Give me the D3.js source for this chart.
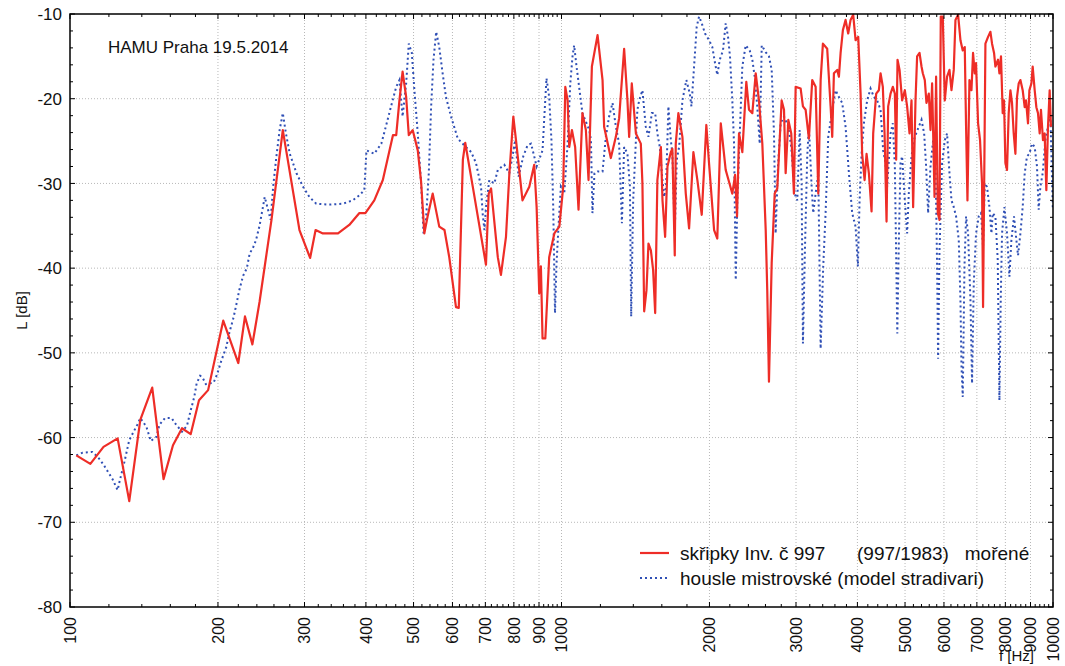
<!DOCTYPE html>
<html>
<head>
<meta charset="utf-8">
<script src="https://cdn.jsdelivr.net/npm/d3@7"></script>
<style>
  body { margin: 0; background: #fff; }
  text { font-family: Arial, "Liberation Sans", sans-serif; fill: #111; }
</style>
</head>
<body>
<svg id="chart" width="1065" height="666"></svg>
<script>
// tick values
var xTicks = [100, 200, 300, 400, 500, 600, 700, 800, 900, 1000, 2000, 3000, 4000, 5000, 6000, 7000, 8000, 9000, 10000];
var yTicks = [-80, -70, -60, -50, -40, -30, -20, -10];

// skřipky Inv. č 997 (red)
var redFreq = [103,110,117,125,132,139,147,155,162,169,176,183,191,205,220,227,235,243,257,271,293,308,316,327,351,370,388,399,416,433,454,461,468,475,483,489,498,510,518,526,534,547,564,578,591,610,618,630,637,660,702,711,719,742,753,771,783,798,808,833,860,880,890,901,908,915,927,944,967,990,1008,1018,1029,1037,1050,1066,1083,1103,1121,1135,1153,1184,1212,1221,1260,1290,1310,1341,1362,1373,1390,1417,1450,1461,1473,1489,1503,1520,1536,1551,1567,1593,1605,1625,1643,1669,1681,1700,1708,1729,1762,1790,1818,1855,1890,1929,1971,1996,2044,2075,2109,2158,2192,2226,2255,2276,2297,2333,2377,2407,2445,2484,2522,2562,2603,2622,2643,2677,2715,2748,2779,2805,2836,2858,2894,2934,2971,2995,3066,3099,3138,3187,3237,3289,3330,3367,3403,3472,3528,3555,3583,3639,3668,3697,3737,3784,3831,3874,3922,3966,4015,4060,4090,4137,4175,4221,4274,4307,4368,4423,4458,4506,4543,4585,4620,4672,4722,4767,4796,4827,4873,4932,4995,5049,5106,5154,5193,5251,5291,5351,5401,5434,5485,5528,5589,5633,5676,5740,5783,5829,5876,5911,5967,6023,6088,6157,6215,6282,6332,6411,6482,6552,6614,6655,6698,6761,6825,6876,6931,6973,7040,7105,7172,7206,7253,7286,7377,7459,7516,7587,7635,7730,7780,7838,7901,7950,8001,8062,8126,8191,8253,8319,8385,8448,8516,8584,8676,8758,8812,8895,8953,9037,9092,9178,9250,9321,9395,9452,9542,9617,9693,9768,9845,9905];
var redDb = [-62.1,-63.1,-61.1,-60.1,-67.5,-57.9,-54.1,-64.9,-60.9,-58.9,-59.6,-55.6,-54.4,-46.2,-51.2,-45.7,-49.0,-44.0,-34.3,-23.7,-35.5,-38.8,-35.5,-35.9,-35.9,-34.9,-33.5,-33.5,-32.0,-29.6,-24.3,-24.3,-20.2,-16.8,-19.8,-24.3,-23.7,-26.1,-29.8,-35.9,-33.9,-31.2,-35.1,-35.5,-38.7,-44.6,-44.7,-27.2,-25.2,-30.4,-39.6,-31.2,-30.6,-38.7,-40.8,-36.3,-29.0,-22.1,-24.9,-32.0,-30.4,-27.8,-32.8,-43.0,-39.8,-48.3,-48.3,-38.7,-35.9,-35.1,-30.4,-18.6,-20.2,-25.7,-23.7,-25.7,-33.1,-21.7,-23.7,-29.6,-16.2,-12.5,-17.8,-23.3,-27.0,-24.5,-22.3,-14.1,-20.2,-24.5,-18.2,-24.1,-25.3,-30.0,-45.1,-42.6,-37.1,-37.9,-40.2,-45.3,-29.6,-25.7,-32.0,-36.3,-28.0,-26.3,-25.9,-38.5,-25.3,-21.7,-24.5,-31.2,-35.3,-26.3,-29.6,-33.7,-23.1,-27.6,-35.5,-36.5,-22.9,-28.4,-29.8,-31.2,-29.0,-33.9,-24.1,-26.3,-18.0,-21.3,-21.7,-17.0,-20.2,-25.3,-35.5,-42.6,-53.4,-39.4,-31.2,-30.6,-24.9,-20.2,-21.3,-28.8,-22.5,-24.1,-31.2,-18.6,-18.8,-20.9,-21.3,-24.7,-17.8,-18.6,-31.2,-17.8,-13.5,-14.1,-20.9,-24.5,-17.0,-16.6,-17.4,-14.6,-11.9,-10.7,-12.3,-10.7,-10.1,-13.1,-12.7,-19.4,-26.5,-29.6,-26.5,-28.8,-33.3,-24.1,-19.4,-19.0,-17.0,-18.6,-24.1,-34.5,-20.9,-19.4,-18.6,-19.4,-27.2,-15.4,-16.6,-20.2,-19.0,-20.9,-24.1,-20.2,-32.8,-20.2,-15.0,-14.6,-16.2,-17.0,-17.8,-20.5,-19.4,-23.7,-18.2,-31.6,-17.4,-33.5,-34.3,-10.3,-10.3,-20.2,-17.4,-16.6,-19.0,-16.6,-10.7,-10.1,-13.1,-14.3,-13.9,-23.3,-32.0,-17.8,-19.0,-14.6,-17.0,-15.8,-22.9,-24.9,-30.0,-44.6,-26.5,-13.5,-12.7,-12.1,-13.5,-14.6,-16.2,-15.4,-17.0,-15.0,-21.7,-20.2,-27.6,-28.4,-21.7,-19.0,-20.5,-24.1,-26.5,-19.8,-18.2,-17.8,-19.0,-21.0,-20.2,-22.9,-19.0,-18.2,-16.2,-19.0,-21.0,-21.7,-24.1,-21.3,-24.9,-24.1,-30.8,-23.3,-19.0,-23.3];

// housle mistrovské (blue, dotted)
var blueFreq = [103,106,111,114,117,122,125,126,129,132,137,139,143,146,150,152,156,161,164,169,173,176,179,181,184,186,189,196,199,203,208,211,215,218,221,225,229,232,236,239,243,249,256,259,263,267,271,275,280,289,298,307,317,337,359,376,388,397,401,416,430,440,450,461,468,475,483,489,496,502,510,518,524,530,537,543,549,556,564,573,582,596,615,634,655,670,686,691,697,702,713,730,742,765,783,795,805,818,836,853,867,880,890,915,922,932,944,954,962,970,977,986,997,1013,1029,1042,1053,1061,1073,1086,1103,1139,1148,1156,1167,1184,1212,1231,1250,1270,1290,1310,1327,1341,1362,1378,1386,1399,1417,1427,1439,1461,1484,1503,1527,1551,1567,1585,1600,1617,1632,1650,1669,1681,1700,1716,1735,1762,1795,1824,1838,1861,1884,1905,1929,1959,1996,2027,2053,2075,2099,2131,2158,2182,2202,2226,2244,2262,2279,2305,2333,2370,2415,2445,2472,2502,2531,2555,2603,2643,2677,2706,2727,2757,2792,2836,2894,2934,2981,3018,3052,3080,3099,3128,3162,3187,3228,3252,3289,3330,3367,3408,3446,3489,3555,3611,3668,3725,3784,3844,3903,3966,4009,4041,4079,4123,4187,4254,4321,4388,4458,4513,4563,4598,4672,4722,4767,4822,4857,4895,4932,4995,5049,5089,5154,5210,5267,5333,5401,5468,5519,5571,5633,5703,5766,5810,5838,5876,5948,6023,6088,6157,6215,6282,6351,6431,6482,6513,6552,6605,6655,6718,6793,6844,6899,6973,7062,7138,7206,7263,7342,7425,7494,7540,7635,7719,7780,7828,7876,7965,8062,8153,8229,8331,8424,8489,8584,8676,8758,8853,8953,9063,9178,9277,9351,9426,9528,9648,9768,9877,9990];
var blueDb = [-62.1,-61.8,-61.7,-62.3,-63.2,-64.9,-66.2,-65.3,-62.9,-60.3,-58.5,-57.7,-58.7,-60.4,-59.9,-58.5,-57.7,-57.7,-58.4,-59.3,-58.6,-56.8,-55.2,-53.6,-52.7,-52.9,-53.7,-53.5,-52.6,-51.0,-49.3,-47.6,-45.9,-44.3,-42.6,-40.9,-40.0,-38.3,-37.5,-36.7,-35.0,-31.6,-34.3,-30.4,-26.8,-23.7,-21.7,-24.1,-26.5,-28.8,-30.4,-31.6,-32.4,-32.5,-32.4,-32.0,-31.4,-30.8,-26.1,-26.5,-25.3,-23.1,-20.9,-18.6,-17.8,-22.1,-18.2,-13.5,-14.6,-19.0,-24.1,-30.0,-35.9,-34.3,-28.8,-20.9,-15.4,-12.1,-13.9,-17.0,-19.8,-22.1,-24.7,-25.5,-26.3,-27.6,-30.4,-33.5,-35.5,-32.8,-29.6,-30.0,-28.4,-27.8,-28.8,-26.8,-24.9,-29.2,-26.8,-25.5,-25.3,-26.8,-28.0,-26.1,-22.5,-17.6,-19.8,-24.9,-32.8,-45.3,-39.4,-35.1,-30.4,-31.2,-25.3,-18.2,-15.0,-13.7,-16.2,-18.6,-21.7,-23.7,-24.9,-33.5,-28.8,-28.6,-28.6,-24.5,-22.1,-20.5,-23.3,-25.3,-34.7,-25.7,-26.5,-30.4,-45.7,-32.0,-24.9,-21.3,-20.2,-19.0,-23.3,-24.5,-21.7,-21.7,-24.1,-25.7,-28.8,-31.6,-30.4,-20.9,-24.9,-26.5,-35.9,-27.2,-25.7,-20.2,-17.8,-19.4,-20.9,-16.2,-11.5,-10.3,-11.1,-12.3,-13.1,-13.9,-15.8,-17.2,-15.4,-14.3,-11.1,-12.7,-15.0,-20.2,-25.3,-41.4,-32.0,-24.1,-16.2,-13.7,-14.3,-15.4,-17.4,-20.9,-25.3,-13.7,-14.5,-15.0,-16.6,-24.1,-35.9,-28.0,-22.9,-22.1,-23.3,-25.7,-31.2,-32.0,-23.7,-30.0,-48.9,-37.9,-26.8,-23.3,-30.4,-33.5,-31.2,-28.8,-49.5,-39.8,-33.5,-24.5,-21.3,-19.0,-19.8,-20.5,-23.3,-28.8,-33.5,-35.1,-39.8,-32.0,-26.5,-22.9,-20.2,-18.8,-19.8,-20.2,-21.3,-26.1,-27.6,-30.4,-24.1,-22.9,-28.0,-47.7,-36.7,-27.6,-26.8,-32.0,-35.9,-31.2,-26.8,-24.9,-24.1,-23.3,-22.5,-24.1,-28.0,-33.5,-28.0,-24.9,-27.2,-39.8,-50.7,-37.9,-27.6,-24.9,-24.1,-28.8,-32.0,-32.8,-33.9,-36.7,-43.8,-51.6,-55.2,-39.8,-33.9,-35.9,-43.8,-53.6,-41.8,-35.9,-33.9,-33.5,-37.5,-30.0,-30.4,-32.8,-35.9,-33.5,-33.9,-39.0,-55.6,-43.8,-35.9,-32.8,-35.9,-41.0,-36.7,-33.9,-36.7,-38.5,-35.9,-32.8,-28.8,-26.8,-26.5,-25.3,-25.7,-28.0,-33.1,-30.4,-28.8,-24.9,-23.3,-21.7,-33.0];

var legendLabels = ["skřipky Inv. č 997      (997/1983)   mořené", "housle mistrovské (model stradivari)"];

var mLeft = 70, mRight = 1053, mTop = 14, mBottom = 607;
var svg = d3.select("#chart");

var x = d3.scaleLog().domain([100, 10000]).range([mLeft, mRight]);
var y = d3.scaleLinear().domain([-80, -10]).range([mBottom, mTop]);

// minor ticks
var xMinor = [];
[100, 1000].forEach(function (d) {
  for (var k = 1.2; k < 9.99; k += 0.2) {
    var v = Math.round(d * k);
    if (xTicks.indexOf(v) < 0) xMinor.push(v);
  }
});
var yMinor = d3.range(-80, -9, 2);

// grid
svg.append("g").selectAll("line").data(xTicks.slice(1, -1)).enter().append("line")
  .attr("x1", function (d) { return x(d); }).attr("x2", function (d) { return x(d); })
  .attr("y1", mTop).attr("y2", mBottom)
  .attr("stroke", "#b8b8b8").attr("stroke-dasharray", "1,2");
svg.append("g").selectAll("line").data(yTicks.slice(1, -1)).enter().append("line")
  .attr("y1", function (d) { return y(d); }).attr("y2", function (d) { return y(d); })
  .attr("x1", mLeft).attr("x2", mRight)
  .attr("stroke", "#b8b8b8").attr("stroke-dasharray", "1,2");

svg.append("clipPath").attr("id", "clip").append("rect")
  .attr("x", mLeft).attr("y", mTop - 1).attr("width", mRight - mLeft).attr("height", mBottom - mTop + 1);

var line = d3.line()
  .x(function (d) { return x(d[0]); })
  .y(function (d) { return y(d[1]); });

var blue = blueFreq.map(function (f, i) { return [f, blueDb[i]]; });
var red = redFreq.map(function (f, i) { return [f, redDb[i]]; });

var plot = svg.append("g").attr("clip-path", "url(#clip)");
plot.append("path").datum(blue).attr("d", line)
  .attr("fill", "none").attr("stroke", "#2f4fb5").attr("stroke-width", 2)
  .attr("stroke-dasharray", "2,3");
plot.append("path").datum(red).attr("d", line)
  .attr("fill", "none").attr("stroke", "#ee2d27").attr("stroke-width", 2.2)
  .attr("stroke-linejoin", "round");

// frame
svg.append("rect").attr("x", mLeft).attr("y", mTop).attr("width", mRight - mLeft).attr("height", mBottom - mTop)
  .attr("fill", "none").attr("stroke", "#000").attr("stroke-width", 1.5);

// ticks (inward)
var ticks = svg.append("g").attr("stroke", "#000").attr("stroke-width", 1);
yMinor.forEach(function (d) {
  var len = d % 10 === 0 ? 5 : 3;
  ticks.append("line").attr("x1", mLeft).attr("x2", mLeft + len).attr("y1", y(d)).attr("y2", y(d));
  ticks.append("line").attr("x1", mRight).attr("x2", mRight - len).attr("y1", y(d)).attr("y2", y(d));
});
xTicks.concat(xMinor).forEach(function (d) {
  var len = xTicks.indexOf(d) >= 0 ? 5 : 3;
  ticks.append("line").attr("x1", x(d)).attr("x2", x(d)).attr("y1", mBottom).attr("y2", mBottom - len);
  ticks.append("line").attr("x1", x(d)).attr("x2", x(d)).attr("y1", mTop).attr("y2", mTop + len);
});

// tick labels
svg.append("g").selectAll("text").data(yTicks).enter().append("text")
  .attr("x", mLeft - 8).attr("y", function (d) { return y(d); })
  .attr("dy", "0.36em").attr("text-anchor", "end")
  .style("font-size", "17px").text(function (d) { return d; });

svg.append("g").selectAll("text").data(xTicks).enter().append("text")
  .attr("transform", function (d) { return "translate(" + x(d) + "," + (mBottom + 10) + ") rotate(-90)"; })
  .attr("dy", "0.36em").attr("text-anchor", "end")
  .style("font-size", "16px").text(function (d) { return d; });

// axis titles
svg.append("text").attr("transform", "translate(22," + ((mTop + mBottom) / 2) + ") rotate(-90)")
  .attr("text-anchor", "middle").attr("dy", "0.36em").style("font-size", "15px").text("L [dB]");
svg.append("text").attr("x", 1034).attr("y", 661).attr("text-anchor", "end")
  .style("font-size", "15px").text("f [Hz]");

svg.append("text").attr("x", 108).attr("y", 53).style("font-size", "17px").text("HAMU Praha 19.5.2014");

// legend
var legend = svg.append("g").attr("transform", "translate(640,553)");
legend.append("line").attr("x1", 0).attr("x2", 29).attr("y1", 0).attr("y2", 0)
  .attr("stroke", "#ee2d27").attr("stroke-width", 2.2);
legend.append("line").attr("x1", 0).attr("x2", 29).attr("y1", 25).attr("y2", 25)
  .attr("stroke", "#2f4fb5").attr("stroke-width", 2).attr("stroke-dasharray", "2,3");
legend.selectAll("text.lbl").data(legendLabels).enter().append("text")
  .attr("class", "lbl")
  .attr("x", 40).attr("y", function (d, i) { return i * 25; })
  .attr("dy", "0.36em").style("font-size", "19px").style("white-space", "pre")
  .text(function (d) { return d; });
</script>
</body>
</html>
